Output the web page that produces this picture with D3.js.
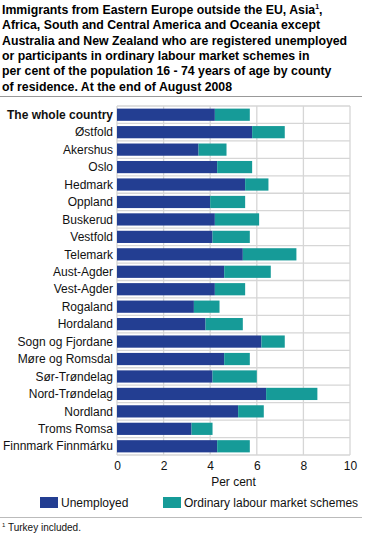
<!DOCTYPE html>
<html>
<head>
<meta charset="utf-8">
<script src="https://cdn.jsdelivr.net/npm/d3@7"></script>
<style>
  body { margin: 0; background: #fff; }
  svg { display: block; font-family: "Liberation Sans", Arial, sans-serif; }
</style>
</head>
<body>
<svg></svg>
<script>
const counties = ["The whole country", "Østfold", "Akershus", "Oslo", "Hedmark", "Oppland",
    "Buskerud", "Vestfold", "Telemark", "Aust-Agder", "Vest-Agder", "Rogaland", "Hordaland",
    "Sogn og Fjordane", "Møre og Romsdal", "Sør-Trøndelag", "Nord-Trøndelag", "Nordland",
    "Troms Romsa", "Finnmark Finnmárku"];
const unemployed = [4.2, 5.8, 3.5, 4.3, 5.5, 4.0, 4.2, 4.1, 5.4, 4.6, 4.2, 3.3, 3.8, 6.2, 4.6, 4.1, 6.4, 5.2, 3.2, 4.3];
const schemes = [1.5, 1.4, 1.2, 1.5, 1.0, 1.5, 1.9, 1.6, 2.3, 2.0, 1.3, 1.1, 1.6, 1.0, 1.1, 1.9, 2.2, 1.1, 0.9, 1.4];
const seriesNames = ["Unemployed", "Ordinary labour market schemes"];
const colors = ["#233e92", "#169b98"];
const xTicks = [0, 2, 4, 6, 8, 10];
const titleLines = [
    "Immigrants from  Eastern Europe outside the EU, Asia¹,",
    "Africa, South and Central America and Oceania except",
    "Australia and New Zealand who are registered unemployed",
    "or participants in ordinary labour market schemes in",
    "per cent of the population 16 - 74 years of age by county",
    "of residence. At the end of August 2008"
];

const width = 372, height = 535;
const margin = {top: 106, left: 117, right: 22, bottom: 80};

const svg = d3.select("svg").attr("width", width).attr("height", height);

// title
const title = svg.append("text")
    .attr("font-weight", "bold")
    .attr("font-size", 12.3)
    .attr("fill", "#000");
title.selectAll("tspan")
    .data(titleLines)
    .enter().append("tspan")
    .attr("x", 2)
    .attr("y", function(d, i) { return 14 + i * 15.3; })
    .text(function(d) { return d.replace("¹", ""); })
    .append("tspan")
    .attr("font-size", 7)
    .attr("dy", -5)
    .text(function(d) { return d.indexOf("¹") >= 0 ? "1" : ""; });
// the comma after the superscript on line 1
title.select("tspan").append("tspan").attr("dy", 5).text(",");
title.select("tspan").each(function() {
    // first line text without the trailing comma before superscript
    d3.select(this).node().firstChild.nodeValue = "Immigrants from  Eastern Europe outside the EU, Asia";
});

svg.append("line")
    .attr("x1", 0).attr("x2", 362)
    .attr("y1", 96.5).attr("y2", 96.5)
    .attr("stroke", "#999").attr("stroke-width", 1);

const x = d3.scaleLinear().domain([0, 10]).range([margin.left, width - margin.right]);
const y = d3.scaleBand().domain(counties)
    .range([margin.top, height - margin.bottom])
    .paddingInner(0.3).paddingOuter(0.15);

const rowH = (height - margin.bottom - margin.top) / counties.length;

// grid
const grid = svg.append("g").attr("stroke", "#d6d6d6").attr("stroke-width", 1.3);
grid.selectAll("line.v")
    .data(xTicks)
    .enter().append("line")
    .attr("x1", function(d) { return x(d); })
    .attr("x2", function(d) { return x(d); })
    .attr("y1", margin.top).attr("y2", height - margin.bottom);
grid.selectAll("line.h")
    .data(d3.range(counties.length + 1))
    .enter().append("line")
    .attr("x1", margin.left).attr("x2", x(10))
    .attr("y1", function(i) { return margin.top + i * rowH; })
    .attr("y2", function(i) { return margin.top + i * rowH; });

// stacked bars
const stack = d3.stack().keys([0, 1])(counties.map(function(c, i) { return [unemployed[i], schemes[i]]; }));
svg.append("g").selectAll("g")
    .data(stack)
    .enter().append("g")
    .attr("fill", function(d, i) { return colors[i]; })
    .selectAll("rect")
    .data(function(d) { return d; })
    .enter().append("rect")
    .attr("x", function(d) { return x(d[0]); })
    .attr("width", function(d) { return x(d[1]) - x(d[0]); })
    .attr("y", function(d, i) { return y(counties[i]); })
    .attr("height", y.bandwidth());

// category labels
svg.append("g").selectAll("text")
    .data(counties)
    .enter().append("text")
    .attr("x", margin.left - 4)
    .attr("y", function(d) { return y(d) + y.bandwidth() / 2; })
    .attr("dy", "0.35em")
    .attr("text-anchor", "end")
    .attr("font-size", 12)
    .attr("font-weight", function(d, i) { return i === 0 ? "bold" : "normal"; })
    .attr("fill", "#111")
    .text(function(d) { return d; });

// x axis
const xAxis = svg.append("g")
    .attr("transform", "translate(0," + (height - margin.bottom) + ")")
    .call(d3.axisBottom(x).tickValues(xTicks).tickSize(0).tickPadding(6));
xAxis.select(".domain").remove();
xAxis.selectAll("text").attr("font-size", 12).attr("fill", "#111")
    .attr("font-family", "Liberation Sans, Arial, sans-serif");

svg.append("text")
    .attr("x", x(5)).attr("y", 486)
    .attr("text-anchor", "middle")
    .attr("font-size", 12).attr("fill", "#111")
    .text("Per cent");

// legend
const legendX = [40, 163];
const legend = svg.append("g").selectAll("g")
    .data(seriesNames)
    .enter().append("g")
    .attr("transform", function(d, i) { return "translate(" + legendX[i] + ",497)"; });
legend.append("rect")
    .attr("width", 18).attr("height", 11)
    .attr("fill", function(d, i) { return colors[i]; });
legend.append("text")
    .attr("x", 21).attr("y", 10)
    .attr("font-size", 12).attr("fill", "#111")
    .text(function(d) { return d; });

// footnote
svg.append("line")
    .attr("x1", 0).attr("x2", 362)
    .attr("y1", 517.5).attr("y2", 517.5)
    .attr("stroke", "#bbb").attr("stroke-width", 1);
const foot = svg.append("text").attr("x", 2).attr("y", 531).attr("font-size", 10).attr("fill", "#111");
foot.append("tspan").attr("font-size", 6).attr("dy", -4).text("1");
foot.append("tspan").attr("dy", 4).text(" Turkey included.");
</script>
</body>
</html>
